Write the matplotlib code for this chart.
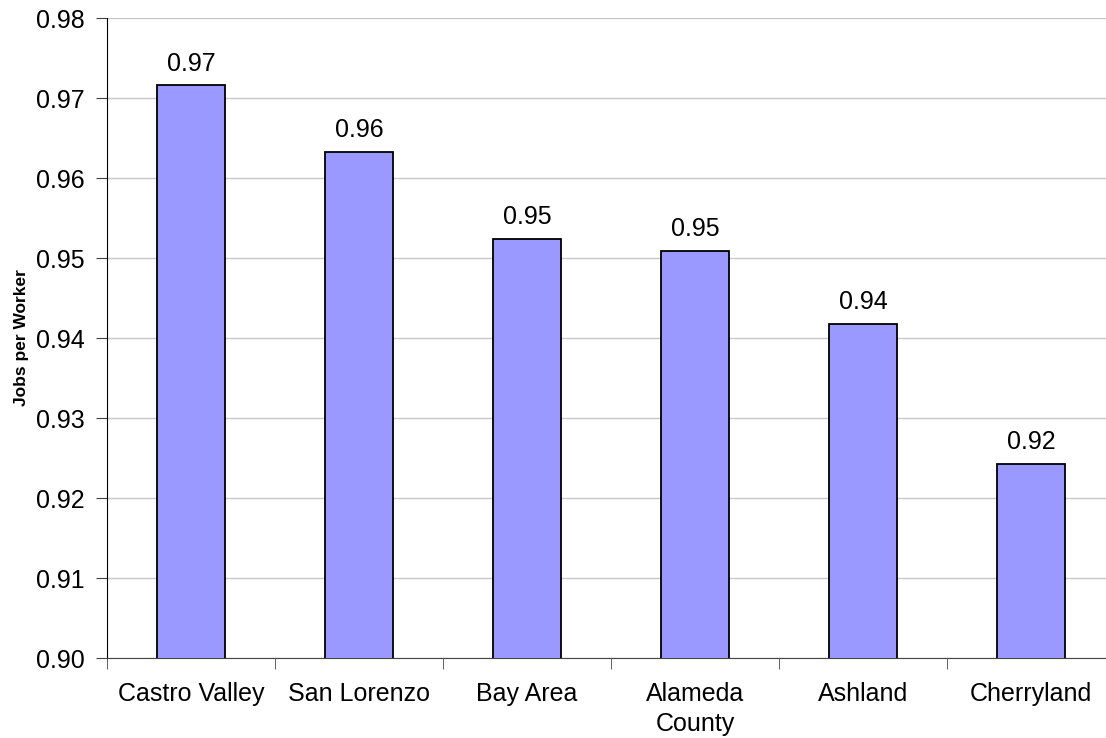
import numpy as np
import matplotlib.pyplot as plt

plt.rcParams['font.family'] = ['Liberation Sans', 'DejaVu Sans']

places = ['Castro Valley', 'San Lorenzo', 'Bay Area', 'Alameda\nCounty', 'Ashland', 'Cherryland']
jobs_per_worker = [0.9716, 0.9633, 0.9524, 0.9509, 0.9418, 0.9243]

fig = plt.figure(figsize=(11.06, 7.38), dpi=100)
ax = fig.add_axes([107 / 1106, 1 - 658 / 738, 1008 / 1106, 640 / 738])

x = np.arange(len(places))
ax.bar(x, jobs_per_worker, width=0.4, bottom=0, color='#9999ff',
       edgecolor='black', linewidth=1.3, zorder=3)

for xi, v in zip(x, jobs_per_worker):
    ax.text(xi, v + 0.0012, '%.2f' % v, ha='center', va='bottom', fontsize=18)

ax.set_ylim(0.90, 0.98)
ax.set_xlim(-0.5, len(places) - 0.5)
ax.set_yticks(np.arange(0.90, 0.9801, 0.01))
ax.set_yticklabels(['%.2f' % t for t in np.arange(0.90, 0.9801, 0.01)], fontsize=18)
ax.yaxis.grid(True, color='#c8c8c8', linewidth=1, zorder=0)

ax.set_xticks(x)
ax.set_xticklabels(places, fontsize=18, linespacing=1.35)
ax.tick_params(axis='x', which='major', length=0, pad=17)
ax.set_xticks(np.arange(-0.5, len(places)), minor=True)
ax.tick_params(axis='x', which='minor', length=8, color='#444444')
ax.tick_params(axis='y', length=8, pad=8, color='#444444')

ax.set_ylabel('Jobs per Worker', fontsize=12.5, fontweight='bold', labelpad=5)

for s in ['top', 'right']:
    ax.spines[s].set_visible(False)
ax.spines['left'].set_color('black')
ax.spines['bottom'].set_color('#444444')

fig.savefig('out.png', dpi=100)
